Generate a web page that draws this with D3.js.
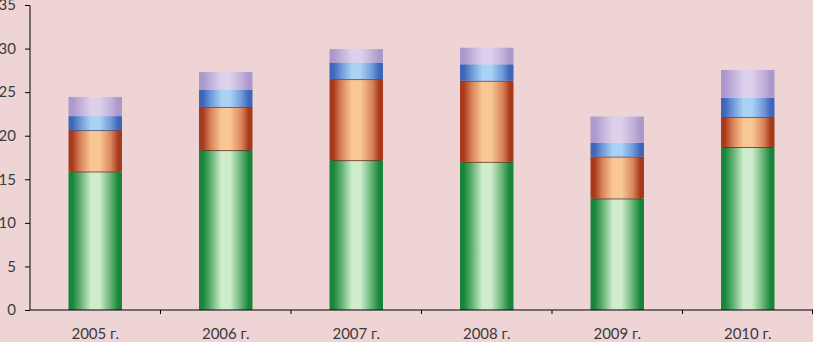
<!DOCTYPE html>
<html><head><meta charset="utf-8">
<script src="https://cdn.jsdelivr.net/npm/d3@7"></script>
<style>
html,body{margin:0;padding:0;background:#efd4d5;}
svg{display:block;}
text{font-family:Lato, "Open Sans", sans-serif;fill:#3a3a3a;}
</style></head>
<body>
<svg id="chart" width="813" height="342"></svg>
<script>
const categories = ["2005 г.","2006 г.","2007 г.","2008 г.","2009 г.","2010 г."];
const seriesGreen  = [15.9, 18.35, 17.2, 17.0, 12.8, 18.7];
const seriesOrange = [4.75, 4.95, 9.3, 9.3, 4.8, 3.45];
const seriesBlue   = [1.6, 2.0, 1.9, 1.9, 1.6, 2.2];
const seriesPurple = [2.2, 2.0, 1.55, 1.9, 3.0, 3.2];
const yTicks = [0,5,10,15,20,25,30,35];

const seriesNames = ["green","orange","blue","purple"];
const seriesData = [seriesGreen, seriesOrange, seriesBlue, seriesPurple];
const gradColors = {
  green:  ["#17853a","#5fb070","#cfeccd"],
  orange: ["#a8391b","#d8835a","#f9c795"],
  blue:   ["#3f66b8","#6e98d8","#a9d2f4"],
  purple: ["#ab98cc","#c2b0da","#dcd0ec"]
};

const svg = d3.select("#chart");
const margin = {left:30, right:0, top:5, bottom:32};
const W = 813, H = 342;
const x = d3.scaleBand().domain(categories).range([margin.left, W]).paddingInner(0.59).paddingOuter(0.295);
const y = d3.scaleLinear().domain([0,35]).range([310, 5]);

// gradients
const defs = svg.append("defs");
seriesNames.forEach(n=>{
  const c = gradColors[n];
  const g = defs.append("linearGradient").attr("id","g-"+n).attr("x1","0%").attr("x2","100%").attr("y1","0%").attr("y2","0%");
  [[0,c[0]],[0.07,c[0]],[0.22,c[1]],[0.42,c[2]],[0.58,c[2]],[0.8,c[1]],[0.93,c[0]],[1,c[0]]].forEach(s=>{
    g.append("stop").attr("offset",(s[0]*100)+"%").attr("stop-color",s[1]);
  });
});

const table = categories.map((c,i)=>{
  const o = {cat:c};
  seriesNames.forEach((n,k)=>o[n]=seriesData[k][i]);
  return o;
});
const stacked = d3.stack().keys(seriesNames)(table);

stacked.forEach(layer=>{
  svg.append("g").selectAll("rect").data(layer).join("rect")
    .attr("x", d=>x(d.data.cat))
    .attr("width", x.bandwidth())
    .attr("y", d=>y(d[1]))
    .attr("height", d=>y(d[0])-y(d[1]))
    .attr("fill", "url(#g-"+layer.key+")");
});
// thin dark separator lines at top of green and orange
[0,1].forEach(k=>{
  svg.append("g").selectAll("line").data(stacked[k]).join("line")
    .attr("x1", d=>x(d.data.cat)+2).attr("x2", d=>x(d.data.cat)+x.bandwidth()-2)
    .attr("y1", d=>y(d[1])+0.5).attr("y2", d=>y(d[1])+0.5)
    .attr("stroke", k===0 ? "#6b2a12" : "#3d4f8a").attr("stroke-width",1).attr("opacity",0.8);
});

// y axis
const yAxis = d3.axisLeft(y).tickValues(yTicks).tickSize(5).tickPadding(9).tickFormat(d3.format("d"));
const gy = svg.append("g").attr("transform","translate(30,0)").call(yAxis);
gy.select(".domain").attr("stroke","#000").attr("d","M0,5.5V310");
gy.selectAll(".tick line").attr("stroke","#000");
gy.selectAll("text").style("font-size","15px").attr("fill","#3a3a3a");

// x axis
const gx = svg.append("g").attr("transform","translate(0,310)");
gx.append("line").attr("x1",30).attr("x2",813).attr("y1",0).attr("y2",0).attr("stroke","#000");
const bounds = categories.map(c=>x(c)+x.bandwidth()+x.step()*0.295);
gx.selectAll("line.tk").data(bounds).join("line").attr("class","tk")
  .attr("x1",d=>Math.min(d,812.5)).attr("x2",d=>Math.min(d,812.5)).attr("y1",0).attr("y2",4).attr("stroke","#000");
gx.selectAll("text").data(categories).join("text")
  .attr("x", c=>x(c)+x.bandwidth()/2)
  .attr("y", 29)
  .attr("text-anchor","middle")
  .style("font-size","15px")
  .text(c=>c);
</script>
</body></html>
